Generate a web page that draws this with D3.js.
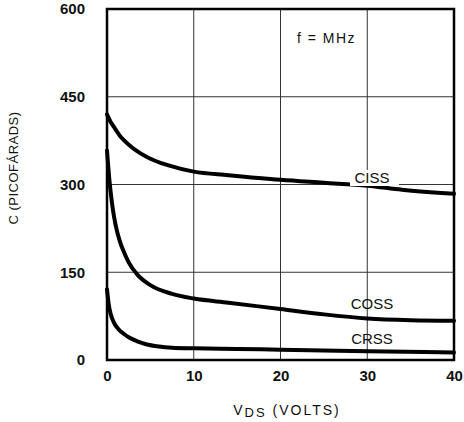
<!DOCTYPE html>
<html>
<head>
<meta charset="utf-8">
<script src="https://cdn.jsdelivr.net/npm/d3@7"></script>
<style>
  html, body { margin: 0; padding: 0; background: #fff; }
  svg { display: block; font-family: "Liberation Sans", Arial, sans-serif; }
</style>
</head>
<body>
<svg id="chart" width="464" height="422"></svg>
<script>
// values
const cissV = [0, 0.5, 1, 1.5, 2, 3, 5, 7, 10, 14, 20, 25, 30, 34, 40];
const cissC = [420, 405, 394, 383, 375, 362, 344, 333, 322, 316, 308, 303, 298, 291, 284];

const cossV = [0, 0.2, 0.4, 0.7, 1, 1.5, 2, 2.5, 3.5, 5, 7.5, 10, 14, 20, 25, 30, 35, 40];
const cossC = [358, 320, 290, 255, 230, 202, 183, 167, 146, 128, 113, 105, 98, 87, 78, 71, 68, 67];

const crssV = [0, 0.2, 0.4, 0.8, 1.3, 2, 2.5, 3.5, 4.5, 6, 7.5, 10, 15, 20, 30, 40];
const crssC = [121, 95, 80, 64, 53, 44, 39, 32, 27, 23, 21, 20, 19, 17.5, 15, 13];

const xTicks = [0, 10, 20, 30, 40];
const yTicks = [0, 150, 300, 450, 600];

const svg = d3.select('#chart');

const x = d3.scaleLinear().domain([0, 40]).range([107, 454]);
const y = d3.scaleLinear().domain([0, 600]).range([360, 9]);

// grid
svg.append('g')
    .selectAll('line')
    .data(xTicks.slice(1, -1))
    .join('line')
    .attr('x1', d => x(d)).attr('x2', d => x(d))
    .attr('y1', y(600)).attr('y2', y(0))
    .attr('stroke', '#333').attr('stroke-width', 1);

svg.append('g')
    .selectAll('line')
    .data(yTicks.slice(1, -1))
    .join('line')
    .attr('x1', x(0)).attr('x2', x(40))
    .attr('y1', d => y(d)).attr('y2', d => y(d))
    .attr('stroke', '#333').attr('stroke-width', 1);

// frame
svg.append('rect')
    .attr('x', x(0)).attr('y', y(600))
    .attr('width', x(40) - x(0)).attr('height', y(0) - y(600))
    .attr('fill', 'none').attr('stroke', '#000').attr('stroke-width', 2.5);

// axes (tick labels only)
const xAxis = svg.append('g')
    .attr('transform', `translate(0,${y(0)})`)
    .call(d3.axisBottom(x).tickValues(xTicks).tickSize(0).tickPadding(10));
const yAxis = svg.append('g')
    .attr('transform', `translate(${x(0)},0)`)
    .call(d3.axisLeft(y).tickValues(yTicks).tickSize(0).tickPadding(22));
[xAxis, yAxis].forEach(a => {
    a.select('.domain').remove();
    a.selectAll('text')
        .attr('font-family', '"Liberation Sans", Arial, sans-serif')
        .attr('font-size', 15)
        .attr('font-weight', 'bold')
        .attr('fill', '#111');
});

// curves
const line = d3.line()
    .x(d => x(d[0]))
    .y(d => y(d[1]))
    .curve(d3.curveMonotoneX);

[[cissV, cissC], [cossV, cossC], [crssV, crssC]].forEach(([vs, cs]) => {
    svg.append('path')
        .datum(vs.map((v, i) => [v, cs[i]]))
        .attr('d', line)
        .attr('fill', 'none')
        .attr('stroke', '#000')
        .attr('stroke-width', 4)
        .attr('stroke-linecap', 'round');
});

// curve labels
svg.append('rect')
    .attr('x', 350).attr('y', 170).attr('width', 49).attr('height', 16)
    .attr('fill', '#fff');

const labels = ['CISS', 'COSS', 'CRSS'];
svg.append('g')
    .selectAll('text')
    .data(labels)
    .join('text')
    .attr('x', 372)
    .attr('y', (d, i) => [183, 309, 344][i])
    .attr('text-anchor', 'middle')
    .attr('font-size', 15)
    .attr('fill', '#111')
    .text(d => d);

svg.append('text')
    .attr('x', 297).attr('y', 43)
    .attr('font-size', 14)
    .attr('letter-spacing', 1.5)
    .attr('fill', '#111')
    .text('f = MHz');

// axis titles
const xt = svg.append('text')
    .attr('x', 287).attr('y', 415)
    .attr('text-anchor', 'middle')
    .attr('font-size', 14)
    .attr('letter-spacing', 2)
    .attr('fill', '#111');
xt.append('tspan').text('V');
xt.append('tspan').attr('dy', 2).attr('font-size', 13).text('DS');
xt.append('tspan').attr('dy', -2).text(' (VOLTS)');

svg.append('text')
    .attr('transform', 'translate(18,168) rotate(-90)')
    .attr('text-anchor', 'middle')
    .attr('font-size', 13)
    .attr('letter-spacing', 0.5)
    .attr('fill', '#111')
    .text('C (PICOFÁRADS)');
</script>
</body>
</html>
